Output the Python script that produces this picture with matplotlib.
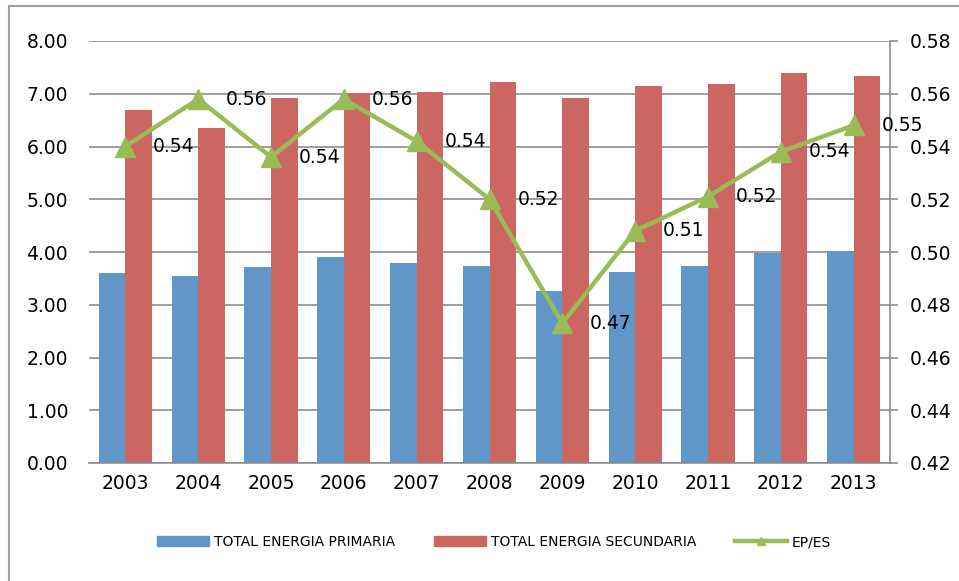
import matplotlib
matplotlib.use("Agg")
import matplotlib.pyplot as plt
import numpy as np
from matplotlib.lines import Line2D
from matplotlib.patches import Patch

years = ["2003", "2004", "2005", "2006", "2007", "2008", "2009", "2010", "2011", "2012", "2013"]
primaria = [3.61, 3.55, 3.71, 3.91, 3.80, 3.74, 3.27, 3.63, 3.74, 3.98, 4.02]
secundaria = [6.69, 6.35, 6.92, 7.02, 7.03, 7.22, 6.92, 7.15, 7.19, 7.39, 7.34]
ep_es = [0.540, 0.558, 0.536, 0.558, 0.542, 0.520, 0.473, 0.508, 0.521, 0.538, 0.548]
ep_es_labels = ["0.54", "0.56", "0.54", "0.56", "0.54", "0.52", "0.47", "0.51", "0.52", "0.54", "0.55"]
left_ticks = [0, 1, 2, 3, 4, 5, 6, 7, 8]
right_ticks = [0.42, 0.44, 0.46, 0.48, 0.50, 0.52, 0.54, 0.56, 0.58]

BLUE = "#6196C9"
RED = "#CC6660"
GREEN = "#9BBB59"
GRID = "#8C8C8C"

plt.rcParams['font.family'] = ['DejaVu Sans']

fig = plt.figure(figsize=(9.59, 5.81), dpi=100)
ax = fig.add_axes([89/959, 1-463/581, (890-89)/959, (463-41)/581])
ax2 = ax.twinx()

x = np.arange(len(years))
w = 0.365
ax.bar(x - w/2, primaria, width=w, color=BLUE, zorder=2)
ax.bar(x + w/2, secundaria, width=w, color=RED, zorder=2)

ax.set_xlim(-0.5, len(years) - 0.5)
ax.set_ylim(0, 8)
ax.set_yticks(left_ticks)
ax.set_yticklabels([f"{t:.2f}" for t in left_ticks])
ax.set_xticks(x)
ax.set_xticklabels(years)
ax.yaxis.grid(True, color=GRID, linewidth=1.2, zorder=0)
ax.set_axisbelow(True)
for s in ["top", "left", "right"]:
    ax.spines[s].set_visible(False)
ax.spines["bottom"].set_color(GRID)
ax.spines["bottom"].set_linewidth(1.2)
ax.tick_params(axis="y", length=0, labelsize=13.5, pad=15)
ax.tick_params(axis="x", length=0, labelsize=13.5, pad=8)

ax2.plot(x, ep_es, color=GREEN, linewidth=3.2, marker="^", markersize=14, zorder=3)
ax2.set_ylim(0.42, 0.58)
ax2.set_yticks(right_ticks)
ax2.set_yticklabels([f"{t:.2f}" for t in right_ticks])
for s in ["top", "left", "bottom"]:
    ax2.spines[s].set_visible(False)
ax2.spines["right"].set_color(GRID)
ax2.spines["right"].set_linewidth(1.2)
ax2.tick_params(axis="y", length=6, width=1.2, color=GRID, labelsize=13.5, pad=8, direction="out")

for xi, v, lab in zip(x, ep_es, ep_es_labels):
    ax2.annotate(lab, (xi, v), xytext=(20, 0), textcoords="offset points",
                 ha="left", va="center", fontsize=13.5, color="black", zorder=4)

handles = [Patch(facecolor=BLUE, edgecolor=BLUE),
           Patch(facecolor=RED, edgecolor=RED),
           Line2D([0], [0], color=GREEN, linewidth=3.2, marker="^", markersize=6)]
labels = ["TOTAL ENERGIA PRIMARIA", "TOTAL ENERGIA SECUNDARIA", "EP/ES"]
fig.legend(handles, labels, loc="center", bbox_to_anchor=(0.515, 1-542/581), ncol=3,
           frameon=False, fontsize=10, handlelength=3.75, handleheight=0.65,
           handletextpad=0.35, columnspacing=2.8)

# outer frame (cut off at right and bottom)
fig.add_artist(Line2D([9/959, 9/959], [0, 1-6/581], transform=fig.transFigure,
                      color="#A0A0A0", linewidth=1.5))
fig.add_artist(Line2D([9/959, 1], [1-6/581, 1-6/581], transform=fig.transFigure,
                      color="#A0A0A0", linewidth=1.5))

fig.savefig("out.png", dpi=100)
